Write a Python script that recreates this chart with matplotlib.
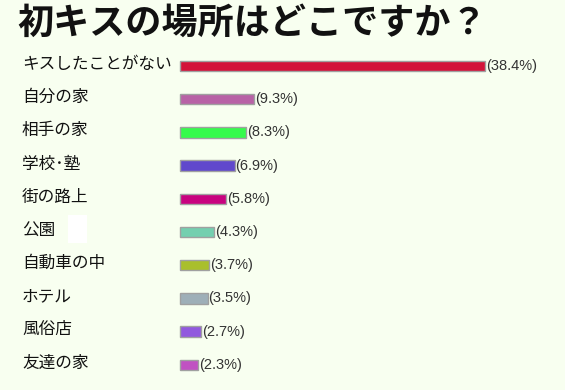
import matplotlib
matplotlib.use('Agg')
from matplotlib import pyplot as plt
from matplotlib.patches import Rectangle

plt.rcParams['font.family'] = ['Noto Sans CJK JP', 'DejaVu Sans']

title = '初キスの場所はどこですか？'
places = ['キスしたことがない', '自分の家', '相手の家', '学校･塾', '街の路上',
          '公園', '自動車の中', 'ホテル', '風俗店', '友達の家']
shares = [38.4, 9.3, 8.3, 6.9, 5.8, 4.3, 3.7, 3.5, 2.7, 2.3]
colors = ['#d3133a', '#b862a6', '#36fb4c', '#6048cc', '#c8037f',
          '#74cfaf', '#a9bf2c', '#9eafb8', '#9159de', '#c052c2']

bg = '#f8fff0'
fig = plt.figure(figsize=(5.65, 3.9), dpi=100, facecolor=bg)
ax = fig.add_axes([0, 0, 1, 1])
ax.set_facecolor(bg)

# pixel layout: bars start at x=180, ~7.94 px per percent, rows every 33.2 px from y=66
px_per = 7.94
ax.set_xlim(-180 / px_per, 385 / px_per)
ax.set_ylim((390 - 66) / 33.2, -66 / 33.2)
ax.axis('off')

rows = list(range(len(places)))
ax.barh(rows, shares, height=0.31, color=colors, edgecolor='#a0a0a0', linewidth=1)

for i, (name, v) in enumerate(zip(places, shares)):
    ax.text(-158 / px_per, i - 0.05, name, fontsize=12, va='center', ha='left', color='#111111')
    ax.text(v + 0.1, i, f'({v}%)', fontsize=10.5, va='center', ha='left',
            color='#333333', family=['Liberation Sans', 'DejaVu Sans'])

# white patch beside the park label
fig.patches.append(Rectangle((68 / 565, 1 - 243 / 390), 19 / 565, 28 / 390,
                             transform=fig.transFigure, facecolor='white',
                             edgecolor='none'))

fig.text(17 / 565, 1 - 23 / 390, title, fontsize=26, fontweight='bold',
         va='center', ha='left', color='#111111')

fig.savefig('out.png', dpi=100, facecolor=bg)
